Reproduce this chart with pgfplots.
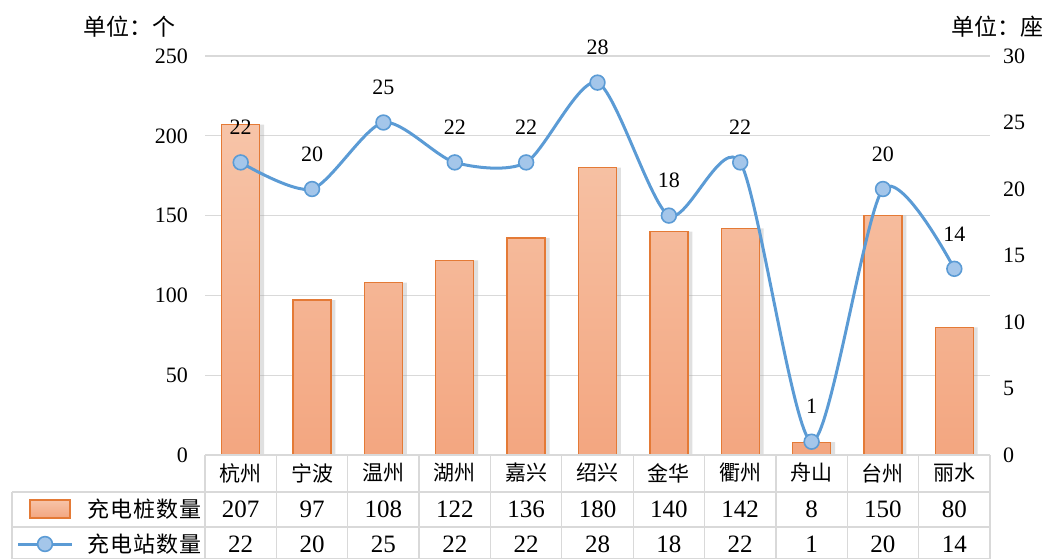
\documentclass[border=0pt]{standalone}
\usepackage{fontspec}
\setmainfont{Liberation Serif}
\newfontfamily\cjk{Noto Sans CJK SC}
\newfontfamily\cjkw[LetterSpace=5]{Noto Sans CJK SC}
\usepackage{pgfplots}
\pgfplotsset{compat=1.18}
\definecolor{bartop}{HTML}{F7C4A8}
\definecolor{barbot}{HTML}{F3A680}
\definecolor{barline}{HTML}{E47A36}
\definecolor{lineblue}{HTML}{5B9BD5}
\definecolor{markfill}{HTML}{A4C6EA}
\definecolor{gridc}{HTML}{D9D9D9}
\pgfplotstableread{
x pile station
0 207 22
1 97 20
2 108 25
3 122 22
4 136 22
5 180 28
6 140 18
7 142 22
8 8 1
9 150 20
10 80 14
}\data
\begin{document}
\begin{tikzpicture}
\path[use as bounding box] (0pt,0pt) rectangle (521pt,279.5pt);
\pgfplotsset{common/.style={
  at={(102.5pt,52pt)}, anchor=south west, scale only axis,
  width=392.5pt, height=199.5pt,
  xmin=-0.5, xmax=10.5, ymin=0,
  axis line style={draw=none}, major tick length=0pt,
  /pgf/number format/assume math mode=true,
  clip=false,
}}
\begin{axis}[common, ymax=250, ytick={0,50,...,250},
  ymajorgrids, grid style={gridc, line width=0.6pt},
  yticklabel style={font=\fontsize{11}{12}\selectfont, xshift=-5pt},
  xtick=data,
  xticklabels={杭州,宁波,温州,湖州,嘉兴,绍兴,金华,衢州,舟山,台州,丽水},
  xticklabel style={font=\cjk\fontsize{10.5}{12}\selectfont, anchor=center, yshift=-9pt},
]
\addplot[ybar, bar width=19pt, bar shift=2.2pt, fill=black!35, draw=none, opacity=0.35] table[x=x,y=pile] {\data};
\addplot[ybar, bar width=19pt, bar shift=0pt, top color=bartop, bottom color=barbot, draw=barline, line width=0.7pt] table[x=x,y=pile] {\data};
\end{axis}
\begin{axis}[common, ymax=30, ytick={0,5,...,30},
  axis y line*=right, axis x line=none,
  yticklabel style={font=\fontsize{11}{12}\selectfont, xshift=3pt},
]
\addplot[smooth, tension=0.45, color=lineblue, line width=1.5pt,
  mark=*, mark size=3.7pt, mark options={fill=markfill, draw=lineblue, line width=0.8pt},
  nodes near coords, point meta=explicit symbolic,
  every node near coord/.append style={anchor=center, yshift=17.5pt, color=black, font=\fontsize{11}{12}\selectfont},
] table[x=x,y=station,meta=station] {\data};
\end{axis}
\begin{scope}[x=0.5pt,y=0.5pt]
% units
\node[font=\cjk\fontsize{11.5}{12}\selectfont, anchor=west] at (76,{559-27}) {单位：个};
\node[font=\cjk\fontsize{11.5}{12}\selectfont, anchor=west] at (944,{559-27}) {单位：座};
% table grid
\begin{scope}[gridc, line width=0.6pt]
\draw (205,{559-455}) -- (990,{559-455});
\draw (12,{559-492}) -- (990,{559-492});
\draw (12,{559-527}) -- (990,{559-527});
\draw (12,0.5) -- (990,0.5);
\draw (12,{559-492}) -- (12,0);
\foreach \k in {0,...,11} \draw ({205+71.3636*\k},{559-455}) -- ({205+71.3636*\k},0);
\end{scope}
% table values
\foreach \v [count=\i from 0] in {207,97,108,122,136,180,140,142,8,150,80}
  \node[font=\fontsize{12.5}{13}\selectfont] at ({205+71.3636*(\i+0.5)},{559-509}) {\v};
\foreach \v [count=\i from 0] in {22,20,25,22,22,28,18,22,1,20,14}
  \node[font=\fontsize{12.5}{13}\selectfont] at ({205+71.3636*(\i+0.5)},{559-544}) {\v};
% legend
\draw[barline, line width=0.7pt, top color=bartop, bottom color=barbot] (30,{559-500}) rectangle (70,{559-518});
\node[font=\cjkw\fontsize{11}{12}\selectfont, anchor=west] at (80,{559-509}) {充电桩数量};
\draw[lineblue, line width=1.5pt] (18,{559-544}) -- (72,{559-544});
\draw[lineblue, fill=markfill, line width=0.8pt] (45,{559-544}) circle (3.7pt);
\node[font=\cjkw\fontsize{11}{12}\selectfont, anchor=west] at (80,{559-544}) {充电站数量};
\end{scope}
\end{tikzpicture}
\end{document}
